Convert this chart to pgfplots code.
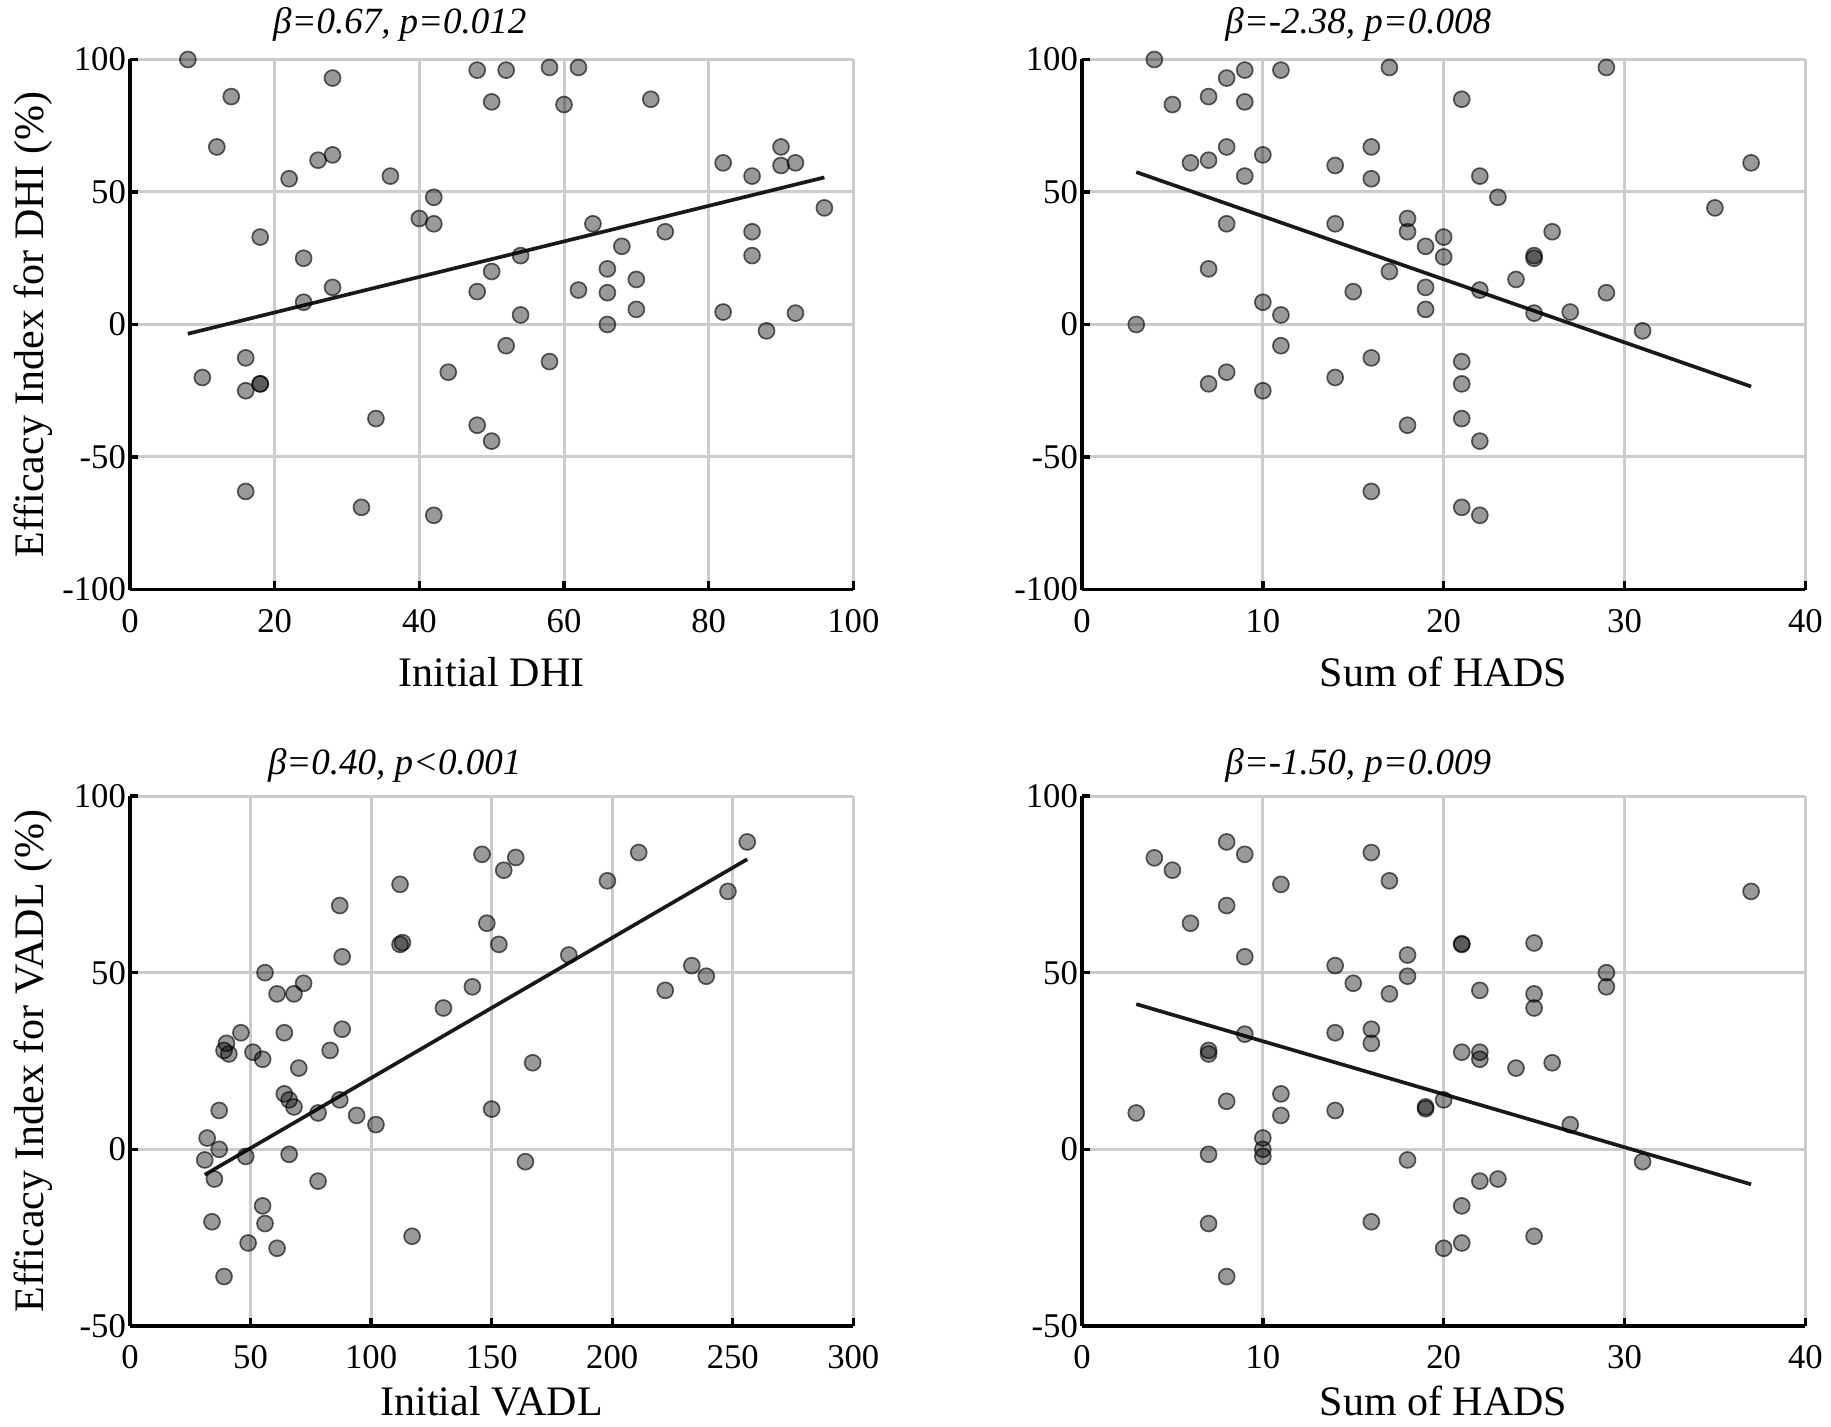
\documentclass[border=0pt]{standalone}
\usepackage{fontspec}
\setmainfont{Liberation Serif}
\usepackage{pgfplots}
\pgfplotsset{compat=1.18}
\pgfplotsset{
  every axis title shift=0pt,
  panel/.style={
    scale only axis,
    width=217pt, height=159pt,
    axis x line*=bottom, axis y line*=left,
    axis line style={-, black, line width=1pt},
    tick align=inside,
    major tick length=2.5pt,
    tick style={black, line width=1pt},
    grid=major,
    major grid style={black!20, line width=0.9pt},
    /pgf/number format/assume math mode=true,
    ticklabel style={font=\fontsize{10.4}{12}\selectfont},
    xticklabel style={yshift=-2.4pt},
    yticklabel style={xshift=2.3pt},
    label style={font=\fontsize{12.6}{15}\selectfont},
    title style={font=\fontsize{11.1}{13}\selectfont\itshape, anchor=base},
    xlabel style={at={(rel axis cs:0.5,-0.183)}, anchor=base},
    ylabel style={at={(rel axis cs:-0.119,0.5)}, anchor=base},
    clip=false,
  },
  pts/.style={only marks, mark=*, mark size=2.4pt,
    mark options={fill=black, fill opacity=0.4, draw=black, draw opacity=0.62, line width=0.5pt}},
  fit/.style={black!90, line width=1.1pt},
}
\begin{document}
\begin{tikzpicture}
\useasboundingbox (-39pt,17.85pt) rectangle (510.3pt,-410.25pt);
% Panel 1
\begin{axis}[panel, at={(0pt,0pt)}, anchor=north west,
  xmin=0, xmax=100, ymin=-100, ymax=100,
  xtick={0,20,...,100}, ytick={-100,-50,...,100},
  xlabel={Initial DHI}, ylabel={Efficacy Index for DHI (\%)},
  title={β=0.67, p=0.012}, title style={at={(rel axis cs:0.373,1.049)}}]
\addplot[pts] table {
x y
8 100
14 86
28 93
48 96
52 96
58 97
62 97
50 84
60 83
72 85
12 67
28 64
26 62
22 55
36 56
82 61
90 67
90 60
92 61
86 56
96 44
42 48
40 40
42 38
18 33
64 38
74 35
86 35
24 25
54 26
68 29.5
86 26
50 20
66 21
70 17
28 14
48 12.4
62 13
66 12
24 8.4
54 3.6
70 5.7
82 4.7
92 4.3
66 0
88 -2.4
52 -8
16 -12.6
58 -14
44 -18
10 -20
18 -22.4
18 -22.4
16 -25
34 -35.5
48 -38
50 -44
16 -63
32 -69
42 -72
};
\addplot[fit] coordinates {(8,-3.5) (96,55.5)};
\end{axis}
% Panel 2
\begin{axis}[panel, at={(285.6pt,0pt)}, anchor=north west,
  xmin=0, xmax=40, ymin=-100, ymax=100,
  xtick={0,10,...,40}, ytick={-100,-50,...,100},
  xlabel={Sum of HADS},
  title={β=-2.38, p=0.008}, title style={at={(rel axis cs:0.382,1.049)}}]
\addplot[pts] table {
x y
4 100
9 96
11 96
17 97
29 97
8 93
5 83
7 86
9 84
21 85
8 67
10 64
6 61
7 62
14 60
16 67
9 56
16 55
22 56
37 61
23 48
35 44
8 38
14 38
18 40
18 35
20 33
26 35
19 29.5
20 25.5
25 26
25 25
7 21
17 20
24 17
15 12.4
19 14
22 13
29 12
10 8.4
11 3.6
19 5.7
25 4.3
27 4.7
3 0
31 -2.4
11 -8
16 -12.6
21 -14
8 -18
14 -20
7 -22.4
21 -22.4
10 -25
18 -38
21 -35.5
22 -44
16 -63
21 -69
22 -72
};
\addplot[fit] coordinates {(3,57.5) (37,-23.4)};
\end{axis}
% Panel 3
\begin{axis}[panel, at={(0pt,-220.95pt)}, anchor=north west,
  xmin=0, xmax=300, ymin=-50, ymax=100,
  xtick={0,50,...,300}, ytick={-50,0,50,100},
  xlabel={Initial VADL}, ylabel={Efficacy Index for VADL (\%)},
  xlabel style={at={(rel axis cs:0.5,-0.168)}},
  title={β=0.40, p<0.001}, title style={at={(rel axis cs:0.366,1.0414)}}]
\addplot[pts] table {
x y
256 87
146 83.5
211 84
160 82.6
155 79
198 76
112 75
248 73
87 69
148 64
112 58
113 58.5
153 58
88 54.5
182 55
233 52
239 49
56 50
222 45
142 46
72 47
61 44
68 44
130 40
46 33
64 33
88 34
40 30
39 28
41 27
51 27.5
55 25.5
83 28
70 23
167 24.5
64 15.7
66 14
68 12
87 14
78 10.3
37 11
94 9.6
150 11.4
102 7
32 3.2
37 0
31 -3
48 -2
66 -1.4
164 -3.5
35 -8.4
78 -9
55 -16
34 -20.5
56 -21
117 -24.6
49 -26.5
61 -28
39 -36
};
\addplot[fit] coordinates {(31,-7.2) (256,82.1)};
\end{axis}
% Panel 4
\begin{axis}[panel, at={(285.6pt,-220.95pt)}, anchor=north west,
  xmin=0, xmax=40, ymin=-50, ymax=100,
  xtick={0,10,...,40}, ytick={-50,0,50,100},
  xlabel={Sum of HADS},
  xlabel style={at={(rel axis cs:0.5,-0.168)}},
  title={β=-1.50, p=0.009}, title style={at={(rel axis cs:0.382,1.0414)}}]
\addplot[pts] table {
x y
4 82.5
5 79
8 87
9 83.5
16 84
17 76
11 75
37 73
8 69
6 64
21 58
21 58.2
25 58.4
9 54.5
18 55
14 52
29 50
18 49
15 47
29 46
17 44
22 45
25 44
25 40
16 34
9 32.6
14 33
16 30
7 28
7 27
21 27.5
22 27.5
22 25.5
24 23
26 24.5
11 15.7
8 13.6
20 14
19 12
19 11.5
11 9.6
3 10.3
14 11
27 7
10 3.2
10 0
10 -2
7 -1.4
18 -3
31 -3.5
22 -9
23 -8.4
21 -16
7 -21
16 -20.5
25 -24.6
21 -26.5
20 -28
8 -36
};
\addplot[fit] coordinates {(3,41.1) (37,-9.9)};
\end{axis}
\end{tikzpicture}
\end{document}
